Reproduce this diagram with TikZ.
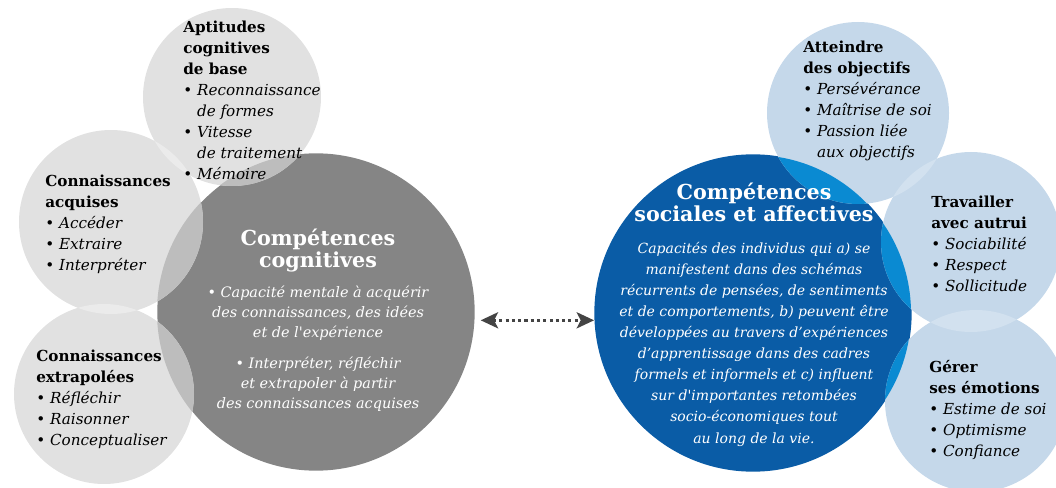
\documentclass[tikz,border=0pt]{standalone}
\usepackage{fontspec}
\setmainfont{DejaVu Serif}
\usetikzlibrary{arrows.meta,positioning}
\definecolor{greymain}{HTML}{858585}
\definecolor{greylight}{HTML}{E1E1E1}
\definecolor{greymix}{HTML}{BDBDBD}
\definecolor{greypale}{HTML}{EBEBEB}
\definecolor{bluemain}{HTML}{0A5CA6}
\definecolor{bluelight}{HTML}{C5D8EA}
\definecolor{bluemix}{HTML}{0A8AD2}
\definecolor{bluepale}{HTML}{D2E1EF}
\definecolor{arrowgrey}{HTML}{444444}
\newcommand{\puce}[1]{\textbullet\ \textit{#1}}
\newcommand{\suite}[1]{\phantom{\textbullet\ }\textit{#1}}

\begin{document}
\begin{tikzpicture}
[x=0.75pt,y=-0.75pt,
big/.style = {circle, inner sep = 0pt, minimum size = 238pt},
topic/.style = {align = left, anchor = north west, inner sep = 0pt, font = \fontsize{11.4}{15.75}\selectfont},
title/.style = {align = center, anchor = north, inner sep = 0pt, text = white, font = \bfseries\fontsize{15.5}{16}\selectfont},
body/.style = {align = center, anchor = north, inner sep = 0pt, text = white, font = \itshape\fontsize{10.8}{15}\selectfont},
link/.style = {{Stealth[length=13pt,width=12pt,inset=3pt]}-{Stealth[length=13pt,width=12pt,inset=3pt]}, arrowgrey, line width = 2.3pt, dash pattern = on 2.3pt off 2.4pt, shorten < = 4.5pt}]
\useasboundingbox (0,0) rectangle (1056,488);
\coordinate (apt) at (232,97);
\coordinate (acq) at (111,222);
\coordinate (ext) at (104,394);
\coordinate (att) at (858,113);
\coordinate (tra) at (971,242);
\coordinate (ger) at (976,401);
\node (cog) at (316,312)[big, fill = greymain] {};
\node (soc) at (753,313)[big, fill = bluemain] {};
\fill[greylight] (apt) circle (89);
\fill[greylight] (acq) circle (92);
\fill[greylight] (ext) circle (90);
\fill[bluelight] (att) circle (91);
\fill[bluelight] (tra) circle (90);
\fill[bluelight] (ger) circle (91);
\begin{scope}
\clip (cog.center) circle (159);
\fill[greymix] (apt) circle (89);
\fill[greymix] (acq) circle (92);
\fill[greymix] (ext) circle (90);
\end{scope}
\begin{scope}
\clip (acq) circle (92);
\fill[greypale] (apt) circle (89);
\fill[greypale] (ext) circle (90);
\end{scope}
\begin{scope}
\clip (soc.center) circle (158);
\fill[bluemix] (att) circle (91);
\fill[bluemix] (tra) circle (90);
\fill[bluemix] (ger) circle (91);
\end{scope}
\begin{scope}
\clip (tra) circle (90);
\fill[bluepale] (att) circle (91);
\fill[bluepale] (ger) circle (91);
\end{scope}
\draw[link] (cog.-3.6) -- (cog.-3.6 -| soc.west);
\node (aptText) at (183,21)[topic] {\textbf{Aptitudes}\\\textbf{cognitives}\\\textbf{de base}\\\puce{Reconnaissance}\\\suite{de formes}\\\puce{Vitesse}\\\suite{de traitement}\\\puce{Mémoire}};
\node (acqText) at (45,175)[topic] {\textbf{Connaissances}\\\textbf{acquises}\\\puce{Accéder}\\\puce{Extraire}\\\puce{Interpréter}};
\node (extText) at (36,350)[topic] {\textbf{Connaissances}\\\textbf{extrapolées}\\\puce{Réfléchir}\\\puce{Raisonner}\\\puce{Conceptualiser}};
\node (cogTitle) at (318,229)[title] {Compétences\\cognitives};
\node (cogBody) at (318,286)[body] {\textbullet\ Capacité mentale à acquérir\\des connaissances, des idées\\et de l\textquotesingle expérience\\[8pt]\textbullet\ Interpréter, réfléchir\\et extrapoler à partir\\des connaissances acquises};
\node (socTitle) at (754,183)[title] {Compétences\\sociales et affectives};
\node (socBody) at (754,242)[body, font = \itshape\fontsize{10.5}{15.8}\selectfont] {Capacités des individus qui a) se\\manifestent dans des schémas\\récurrents de pensées, de sentiments\\et de comportements, b) peuvent être\\développées au travers d’expériences\\d’apprentissage dans des cadres\\formels et informels et c) influent\\sur d\textquotesingle importantes retombées\\socio-économiques tout\\au long de la vie.};
\node (attText) at (803,41)[topic] {\textbf{Atteindre}\\\textbf{des objectifs}\\\puce{Persévérance}\\\puce{Maîtrise de soi}\\\puce{Passion liée}\\\suite{aux objectifs}};
\node (traText) at (931,196)[topic] {\textbf{Travailler}\\\textbf{avec autrui}\\\puce{Sociabilité}\\\puce{Respect}\\\puce{Sollicitude}};
\node (gerText) at (929,360)[topic] {\textbf{Gérer}\\\textbf{ses émotions}\\\puce{Estime de soi}\\\puce{Optimisme}\\\puce{Confiance}};
\end{tikzpicture}
\end{document}
